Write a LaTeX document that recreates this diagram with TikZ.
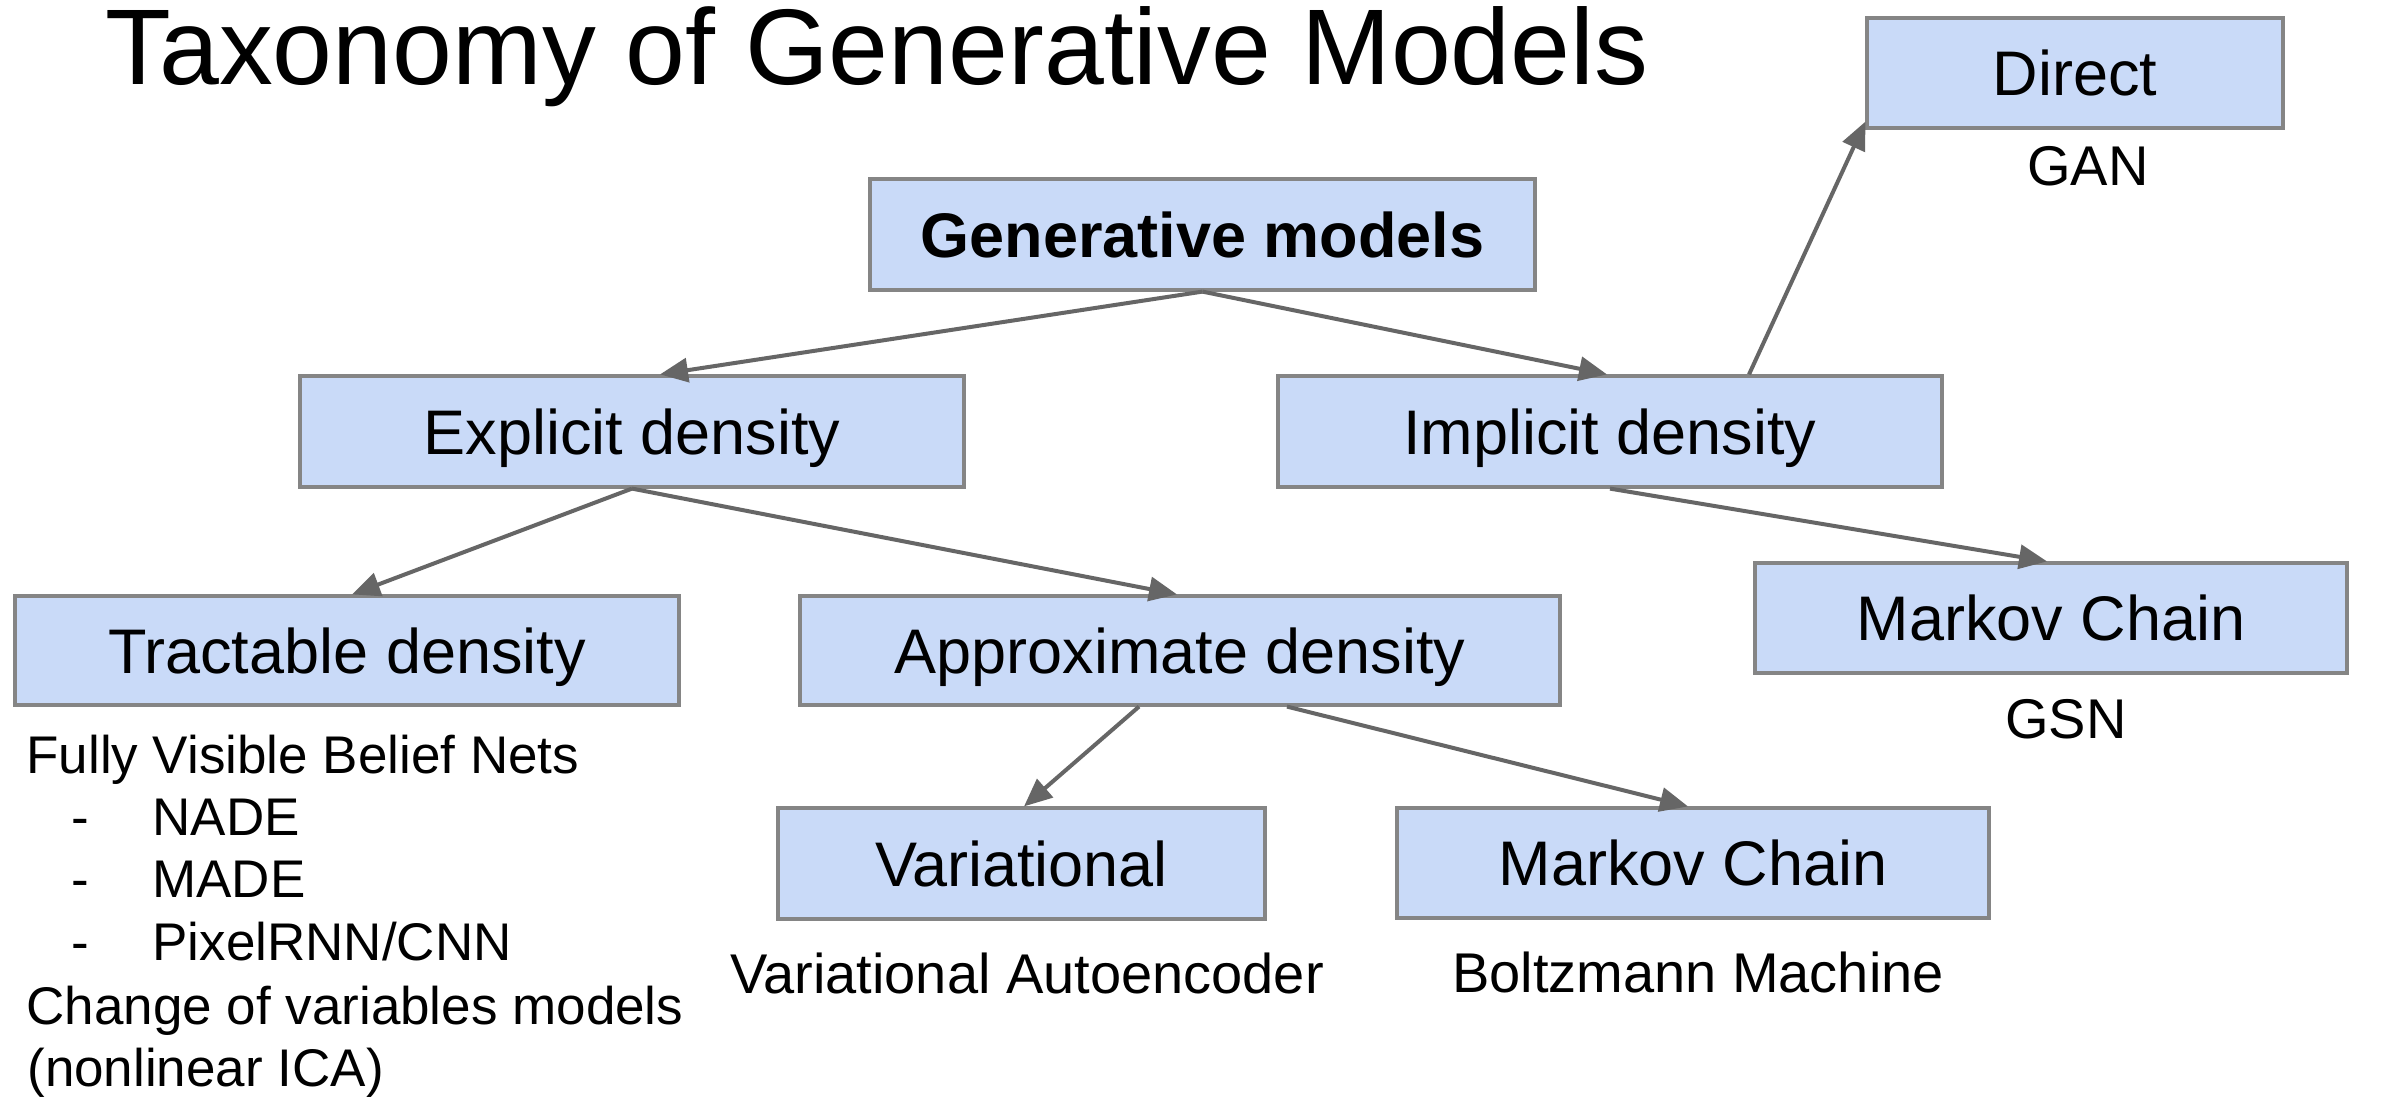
\documentclass[tikz,border=0pt]{standalone}
\usepackage{fontspec}
\setmainfont{Liberation Sans}
\usetikzlibrary{arrows.meta}
\definecolor{boxfill}{HTML}{C9DAF8}
\definecolor{boxline}{HTML}{858585}
\definecolor{arrowc}{HTML}{666666}
\begin{document}
\begin{tikzpicture}[x=0.5pt,y=-0.5pt,
  box/.style={draw=boxline, line width=1.6pt, fill=boxfill, inner sep=0pt,
    font=\fontsize{31.5pt}{36pt}\selectfont, text height=22.5pt, text depth=0pt},
  sublabel/.style={anchor=base, inner sep=0pt, font=\fontsize{28pt}{32pt}\selectfont},
  listtext/.style={anchor=base west, inner sep=0pt, font=\fontsize{26.5pt}{31pt}\selectfont},
  link/.style={draw=arrowc, line width=2pt, -{Triangle[length=14pt,width=12pt]}}
]
\useasboundingbox (0,0) rectangle (2402,1108);
\fill[white] (0,0) rectangle (2402,1108);

% title
\node[anchor=base west, inner sep=0pt, font=\fontsize{53.8pt}{60pt}\selectfont] (title) at (105,84) {Taxonomy of Generative Models};

% boxes
\node[box, minimum width=208pt, minimum height=55pt] (dir) at (2075,73) {Direct};
\node[box, minimum width=332.5pt, minimum height=55.5pt, font=\fontsize{31.5pt}{36pt}\selectfont\bfseries] (gm) at (1202.5,234.5) {Generative models};
\node[box, minimum width=332pt, minimum height=55.5pt] (exp) at (632,431.5) {Explicit density};
\node[box, minimum width=332pt, minimum height=55.5pt] (imp) at (1610,431.5) {Implicit density};
\node[box, minimum width=332pt, minimum height=54.5pt] (tra) at (347,650.5) {Tractable density};
\node[box, minimum width=380pt, minimum height=54.5pt] (app) at (1180,650.5) {Approximate density};
\node[box, minimum width=296pt, minimum height=55pt] (mcr) at (2051,618) {Markov Chain};
\node[box, minimum width=243.5pt, minimum height=55.5pt] (var) at (1021.5,863.5) {Variational};
\node[box, minimum width=296pt, minimum height=55pt] (mcb) at (1693,863) {Markov Chain};

% sub labels
\node[sublabel] (gan) at (2088,185) {GAN};
\node[sublabel] (gsn) at (2066,738) {GSN};
\node[sublabel] (vae) at (1027,993) {Variational Autoencoder};
\node[sublabel] (bm) at (1698,992) {Boltzmann Machine};

% left list
\node[listtext] (fvbn) at (26,773) {Fully Visible Belief Nets};
\node[listtext] (d1) at (71,835) {-};
\node[listtext] (nade) at (152,835) {NADE};
\node[listtext] (d2) at (71,897) {-};
\node[listtext] (made) at (152,897) {MADE};
\node[listtext] (d3) at (71,960) {-};
\node[listtext] (pix) at (152,960) {PixelRNN/CNN};
\node[listtext] (cov) at (26,1024) {Change of variables models};
\node[listtext] (ica) at (27,1086) {(nonlinear ICA)};

% connectors
\draw[link] (gm.south) -- ([xshift=14pt]exp.north);
\draw[link] (gm.south) -- ([xshift=-1.5pt]imp.north);
\draw[link] ([xshift=69.5pt]imp.north) -- ([yshift=4pt]dir.south west);
\draw[link] (exp.south) -- ([xshift=2.5pt]tra.north);
\draw[link] (exp.south) -- ([xshift=-1.5pt]app.north);
\draw[link] (imp.south) -- ([xshift=-2pt]mcr.north);
\draw[link] ([xshift=-20.5pt]app.south) -- ([xshift=1.25pt]var.north);
\draw[link] ([xshift=53.5pt]app.south) -- ([xshift=-2.5pt]mcb.north);
\end{tikzpicture}
\end{document}
